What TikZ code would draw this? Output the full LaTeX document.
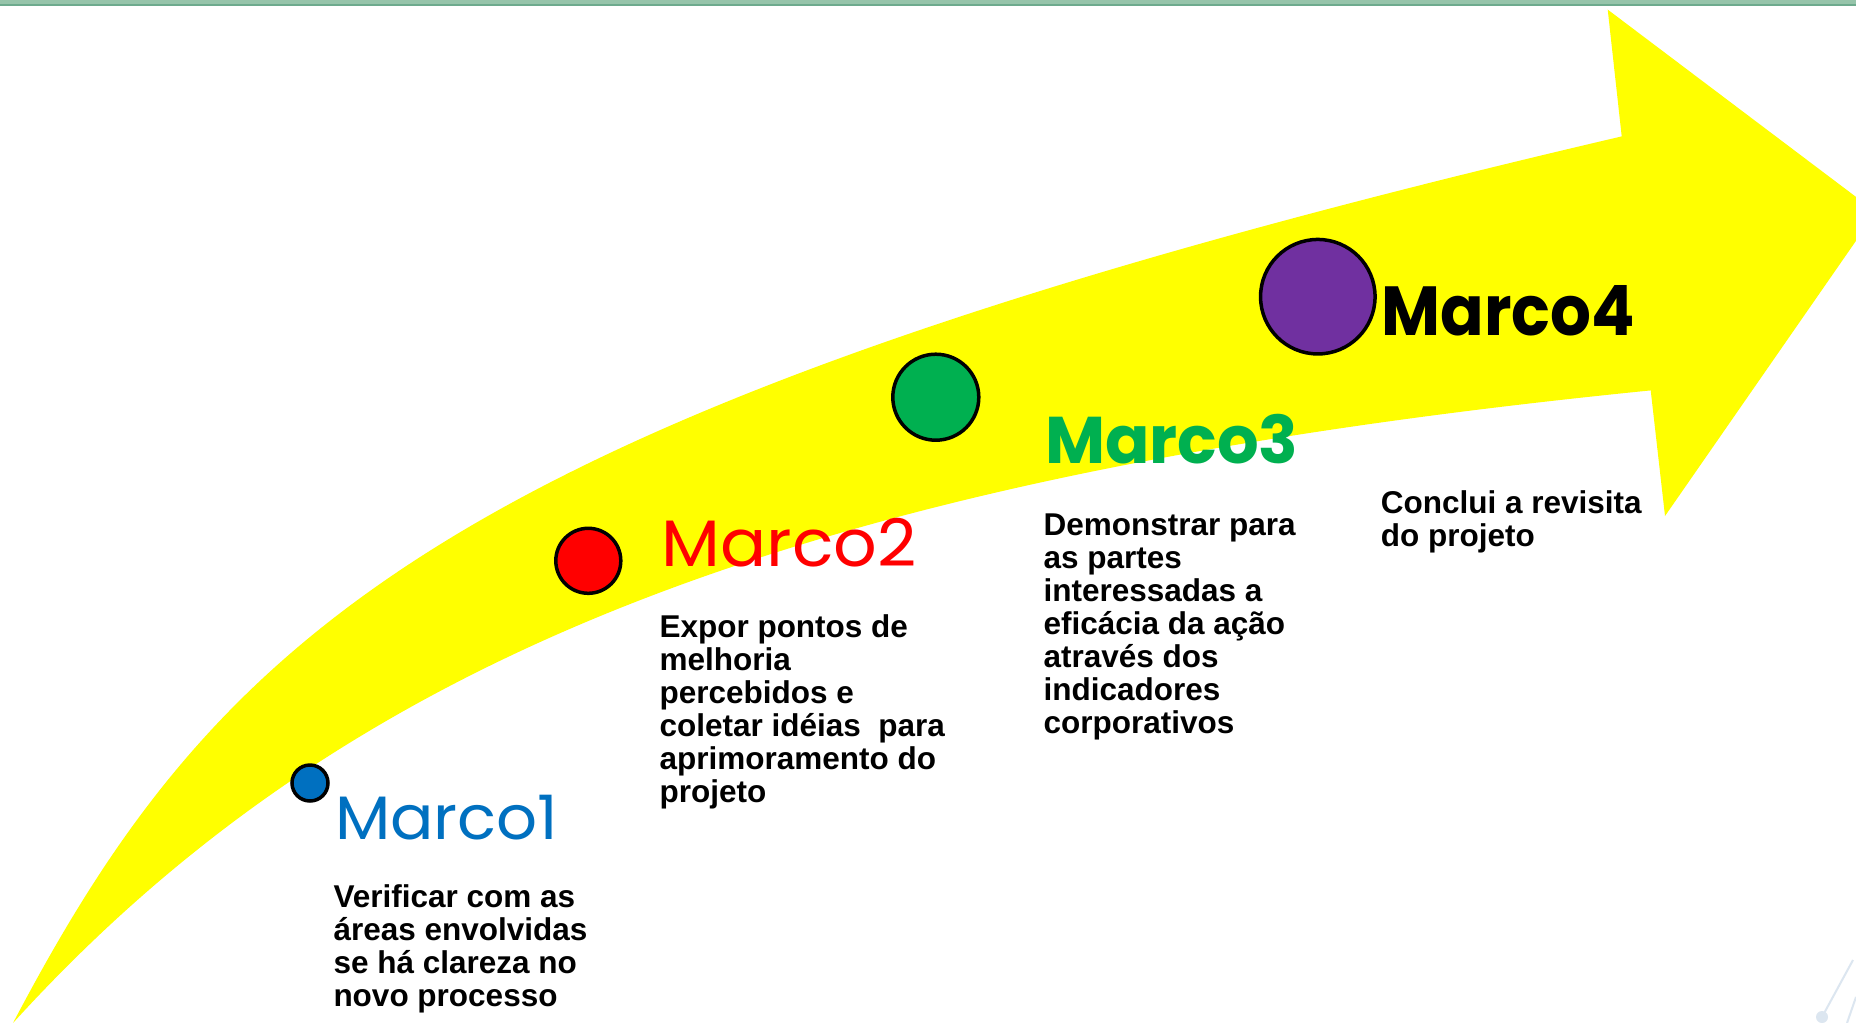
\documentclass[tikz,border=0pt]{standalone}
\usepackage{fontspec}
\usepackage{graphicx}
\setmainfont{Liberation Sans}
\newfontfamily\geo{Poppins}
\definecolor{mblue}{HTML}{0070C0}
\definecolor{mred}{HTML}{FF0000}
\definecolor{mgreen}{HTML}{00B050}
\definecolor{mpurple}{HTML}{7030A0}
\definecolor{arrowyellow}{HTML}{FFFF00}
\definecolor{bandlight}{HTML}{96C4AA}
\definecolor{banddark}{HTML}{6DAA8D}
\definecolor{faint}{HTML}{DCE6F0}
\tikzset{
  milestone/.style={circle, draw=black, line width=3.5pt, inner sep=0pt},
  marcolabel/.style={anchor=base west, inner sep=0pt},
  bodytext/.style={anchor=base west, inner sep=0pt, font=\fontsize{31.5}{33}\selectfont\bfseries}
}
\begin{document}
\begin{tikzpicture}[x=1pt,y=-1pt]
\useasboundingbox (0,0) rectangle (1856,1023);
\clip (0,0) rectangle (1856,1023);
\fill[white] (0,0) rectangle (1856,1023);
% top band
\fill[bandlight] (0,0) rectangle (1856,4);
\fill[banddark] (0,4) rectangle (1856,6);
% arrow
\fill[arrowyellow]
  (13,1023) .. controls (220,630) and (450,410) .. (1621.7,136.4)
  -- (1607.7,9.6) -- (1876,212) -- (1665,516) -- (1650.7,390.4)
  .. controls (809.2,474.6) and (350.6,651.7) .. (13,1023)
  -- cycle;
% faint decoration bottom right
\draw[faint, line width=2pt] (1853,960) -- (1822,1017);
\fill[faint] (1822,1017) circle (6);
\draw[faint, line width=2pt] (1856,997) -- (1847,1023);
% milestones
\node[milestone, fill=mblue, minimum size=36pt] (c1) at (310,783) {};
\node[milestone, fill=mred, minimum size=65pt] (c2) at (588.3,560.8) {};
\node[milestone, fill=mgreen, minimum size=86pt] (c3) at (935.8,397.2) {};
\node[milestone, fill=mpurple, minimum size=114.5pt] (c4) at (1317.8,296.7) {};
% labels
\node[marcolabel, text=mblue] (m1) at (335,839.3) {\resizebox{223.3pt}{44.3pt}{\geo Marco1}};
\node[marcolabel, text=mred] (m2) at (661.7,566.7) {\resizebox{255pt}{48.3pt}{\geo Marco2}};
\node[marcolabel, text=mgreen] (m3) at (1045,463.3) {\resizebox{253.3pt}{49.3pt}{\geo\bfseries Marco3}};
\node[marcolabel, text=black] (m4) at (1381.5,335) {\resizebox{253.2pt}{50pt}{\geo\bfseries Marco4}};
% body texts
\node[bodytext] (t1) at (333.3,907.7) {\vtop{\hbox{Verificar com as}\hbox{áreas envolvidas}\hbox{se há clareza no}\hbox{novo processo}}};
\node[bodytext] (t2) at (659.3,637.3) {\vtop{\hbox{Expor pontos de}\hbox{melhoria}\hbox{percebidos e}\hbox{coletar idéias\ \ para}\hbox{aprimoramento do}\hbox{projeto}}};
\node[bodytext] (t3) at (1043.3,535) {\vtop{\hbox{Demonstrar para}\hbox{as partes}\hbox{interessadas a}\hbox{eficácia da ação}\hbox{através dos}\hbox{indicadores}\hbox{corporativos}}};
\node[bodytext] (t4) at (1380.7,513.3) {\vtop{\hbox{Conclui a revisita}\hbox{do projeto}}};
\end{tikzpicture}
\end{document}
